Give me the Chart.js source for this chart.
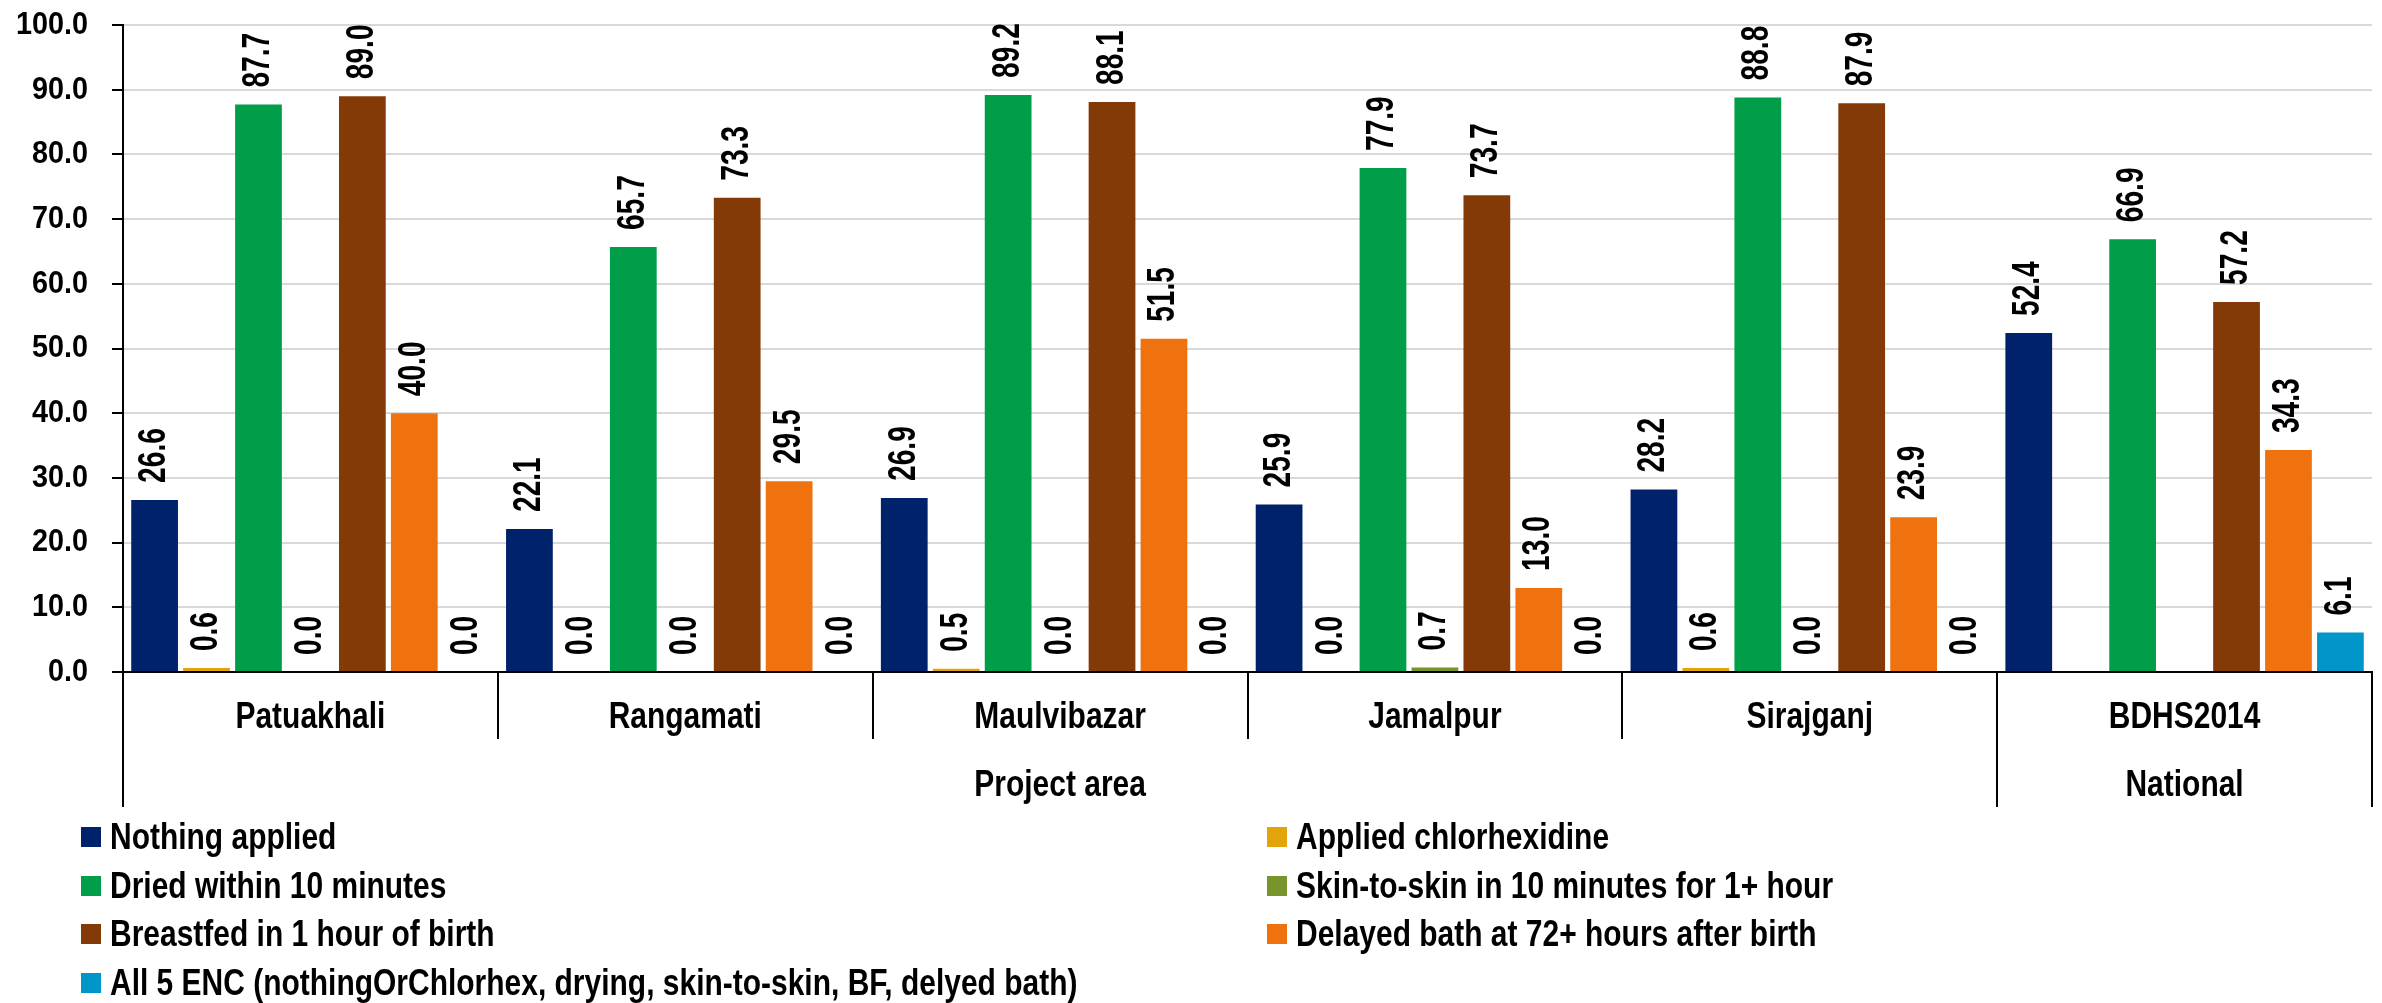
<!DOCTYPE html>
<html>
<head>
<meta charset="utf-8">
<title>Essential newborn care practices</title>
<script src="https://cdn.jsdelivr.net/npm/chart.js@4.4.1/dist/chart.umd.min.js"></script>
<style>
  body { margin: 0; background: #fff; }
  #wrap { position: relative; width: 2382px; height: 1003px; }
  #legend {
    position: absolute; left: 81px; top: 813px;
    display: grid; grid-template-columns: 1186px auto; grid-auto-rows: 48.5px;
    font: bold 37px "Liberation Sans", Arial, sans-serif; color: #000;
  }
  #legend .item { display: flex; align-items: center; white-space: nowrap; }
  #legend .swatch { width: 20px; height: 20px; margin-right: 9px; flex: none; }
  #legend .text { display: inline-block; transform: scaleX(0.81); transform-origin: left center; }
</style>
</head>
<body>
<div id="wrap">
  <canvas id="enc"></canvas>
  <div id="legend"></div>
</div>
<script>
const FONT = '"Liberation Sans", Arial, sans-serif';

const districts = ['Patuakhali', 'Rangamati', 'Maulvibazar', 'Jamalpur', 'Sirajganj', 'BDHS2014'];
const groups = ['Project area', 'National'];
const groupSpans = [5, 1];
const yTicks = [0, 10, 20, 30, 40, 50, 60, 70, 80, 90, 100];

// percentages per indicator, one value per district (null = not measured)
const nothingApplied = [26.6, 22.1, 26.9, 25.9, 28.2, 52.4];
const chlorhexidine = [0.6, 0.0, 0.5, 0.0, 0.6, null];
const driedIn10 = [87.7, 65.7, 89.2, 77.9, 88.8, 66.9];
const skinToSkin = [0.0, 0.0, 0.0, 0.7, 0.0, null];
const breastfed1h = [89.0, 73.3, 88.1, 73.7, 87.9, 57.2];
const delayedBath = [40.0, 29.5, 51.5, 13.0, 23.9, 34.3];
const allFiveEnc = [0.0, 0.0, 0.0, 0.0, 0.0, 6.1];

const series = [
  { label: 'Nothing applied', data: nothingApplied, color: '#00226A' },
  { label: 'Applied chlorhexidine', data: chlorhexidine, color: '#E2A40A' },
  { label: 'Dried within 10 minutes', data: driedIn10, color: '#009E49' },
  { label: 'Skin-to-skin in 10 minutes for 1+ hour', data: skinToSkin, color: '#77952B' },
  { label: 'Breastfed in 1 hour of birth', data: breastfed1h, color: '#833A07' },
  { label: 'Delayed bath at 72+ hours after birth', data: delayedBath, color: '#EF720F' },
  { label: 'All 5 ENC (nothingOrChlorhex, drying, skin-to-skin, BF, delyed bath)', data: allFiveEnc, color: '#0096C9' }
];

// bold face squeezed along the text direction
function narrowText(ctx, text, x, y, align, squeeze, angle) {
  ctx.save();
  ctx.translate(x, y);
  if (angle) ctx.rotate(angle);
  ctx.scale(squeeze, 1);
  ctx.textAlign = align;
  ctx.fillText(text, 0, 0);
  ctx.restore();
}

// rotated value above each bar
const valueLabels = {
  id: 'valueLabels',
  afterDatasetsDraw(chart) {
    const ctx = chart.ctx;
    ctx.save();
    ctx.font = 'bold 38px ' + FONT;
    ctx.fillStyle = '#000';
    ctx.textBaseline = 'middle';
    chart.data.datasets.forEach((ds, i) => {
      chart.getDatasetMeta(i).data.forEach((bar, j) => {
        const v = ds.data[j];
        if (v === null) return;
        narrowText(ctx, v.toFixed(1), bar.x, bar.y - 17, 'left', 0.74, -Math.PI / 2);
      });
    });
    ctx.restore();
  }
};

// tick labels, district separators and the group row of the category axis
const axisText = {
  id: 'axisText',
  afterDraw(chart) {
    const { ctx, chartArea } = chart;
    const { x, y } = chart.scales;
    const base = chartArea.bottom;
    const step = (x.right - x.left) / districts.length;
    const edges = [0];
    groupSpans.forEach(n => edges.push(edges[edges.length - 1] + n));

    ctx.save();
    ctx.fillStyle = '#000';
    ctx.textBaseline = 'middle';

    ctx.font = 'bold 32px ' + FONT;
    yTicks.forEach(v => narrowText(ctx, v.toFixed(1), y.left + 88, y.getPixelForValue(v), 'right', 0.9));

    ctx.strokeStyle = '#000';
    ctx.lineWidth = 2;
    for (let i = 0; i <= districts.length; i++) {
      const px = Math.round(x.left + i * step);
      const long = edges.includes(i);
      ctx.beginPath();
      ctx.moveTo(px, base);
      ctx.lineTo(px, base + (long ? 135 : 67));
      ctx.stroke();
    }

    ctx.font = 'bold 37px ' + FONT;
    districts.forEach((d, i) => narrowText(ctx, d, x.getPixelForValue(i), base + 46, 'center', 0.81));
    groups.forEach((g, k) => {
      const mid = x.left + (edges[k] + edges[k + 1]) / 2 * step;
      narrowText(ctx, g, mid, base + 114, 'center', 0.81);
    });
    ctx.restore();
  }
};

const chart = new Chart(document.getElementById('enc'), {
  type: 'bar',
  data: {
    labels: districts,
    datasets: series.map(s => ({
      label: s.label,
      data: s.data,
      backgroundColor: s.color,
      categoryPercentage: 0.97,
      barPercentage: 0.9
    }))
  },
  options: {
    responsive: true,
    maintainAspectRatio: false,
    animation: false,
    layout: { padding: { top: 25, right: 10, bottom: 188, left: 0 } },
    plugins: {
      legend: { display: false },
      tooltip: { enabled: false }
    },
    scales: {
      x: {
        grid: { display: false, drawTicks: false },
        border: { display: true, color: '#000', width: 2 },
        ticks: { display: false },
        afterFit: scale => { scale.height = 143; }
      },
      y: {
        min: 0,
        max: 100,
        afterBuildTicks: scale => { scale.ticks = yTicks.map(v => ({ value: v })); },
        grid: { color: '#D9D9D9', lineWidth: 2, tickColor: '#000', tickLength: 11 },
        border: { display: true, color: '#000', width: 2 },
        ticks: { display: false },
        afterFit: scale => { scale.width = 123; }
      }
    }
  },
  plugins: [valueLabels, axisText]
});

// two-column legend under the chart
const legend = document.getElementById('legend');
Chart.defaults.plugins.legend.labels.generateLabels(chart).forEach(item => {
  const row = document.createElement('div');
  row.className = 'item';
  const sw = document.createElement('span');
  sw.className = 'swatch';
  sw.style.background = item.fillStyle;
  const txt = document.createElement('span');
  txt.className = 'text';
  txt.textContent = item.text;
  row.appendChild(sw);
  row.appendChild(txt);
  legend.appendChild(row);
});
</script>
</body>
</html>
